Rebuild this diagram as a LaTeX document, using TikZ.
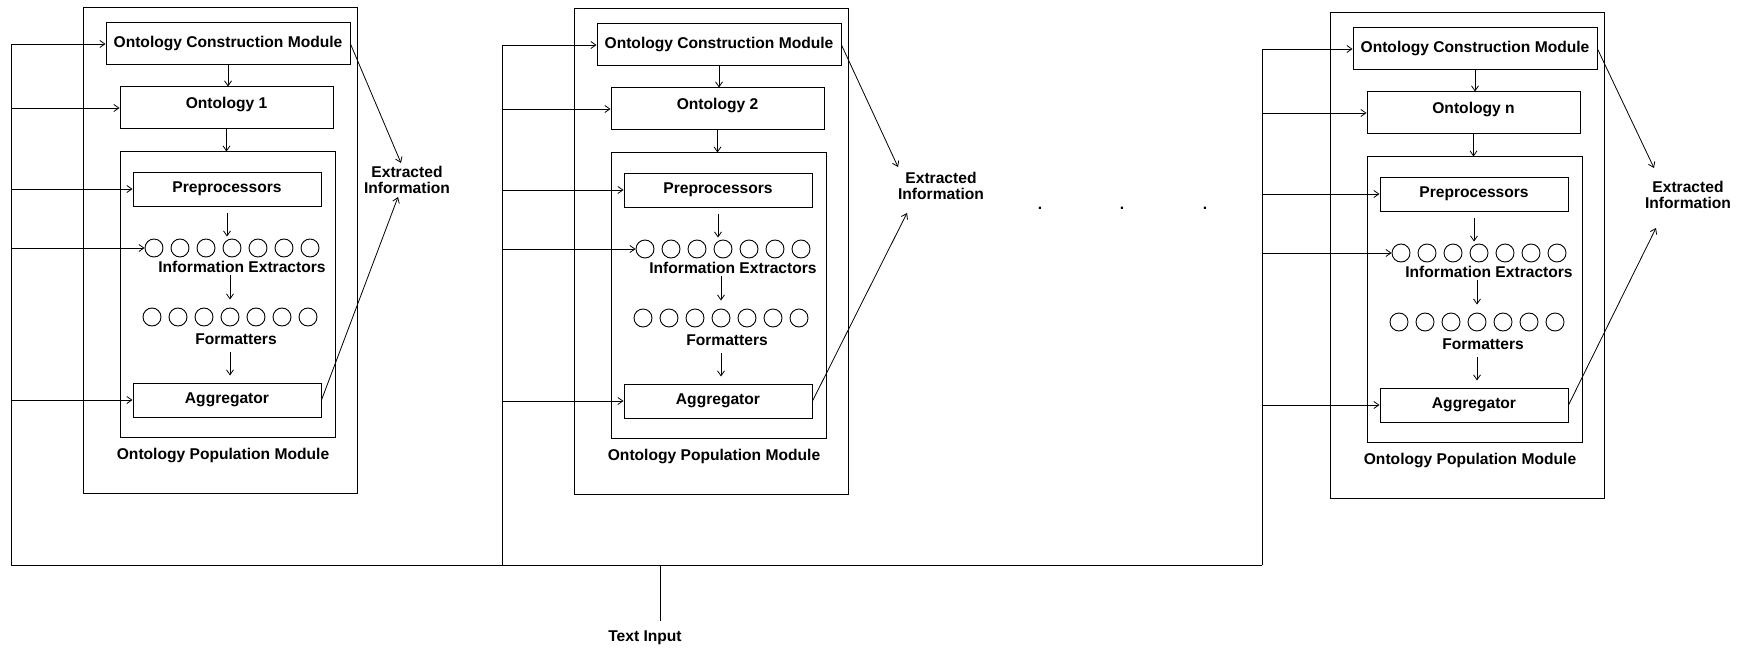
\documentclass[tikz,border=0pt]{standalone}
\usepackage{fontspec}
\setmainfont{Liberation Sans}
\usetikzlibrary{arrows.meta,calc}

\tikzset{
  box/.style={draw, line width=1pt, inner sep=0pt},
  lab/.style={inner sep=0pt, font=\fontsize{15.6}{16.5}\selectfont\bfseries},
  ring/.style={draw, circle, line width=0.9pt, minimum size=18pt, inner sep=0pt},
  arr/.style={-{Straight Barb[length=5pt,width=7pt]}, line width=0.8pt},
  wire/.style={line width=0.9pt},
}

% One extraction pipeline: #1 name suffix, #2/#3 offset, #4 ontology title
\newcommand\ontmodule[4]{%
  \begin{scope}[shift={(#2,#3)}]
    \node[box, minimum width=274pt, minimum height=485pt] (outer#1) at (220,250.5) {};
    \node[box, lab, minimum width=244pt, minimum height=42pt] (ocm#1) at (228,44) {Ontology Construction Module};
    \node[box, minimum width=213pt, minimum height=42pt] (ont#1) at (226.5,108) {};
    \node[lab] (ontlab#1) at ($(ont#1.center)+(0,-3.5)$) {#4};
    \node[box, minimum width=215pt, minimum height=285pt] (pop#1) at (227.5,294.5) {};
    \node[box, lab, minimum width=188pt, minimum height=34pt] (pre#1) at (227,189) {Preprocessors};
    \foreach \k in {1,...,7}
      \node[ring] (ie#1-\k) at ({154+26*(\k-1)},248) {};
    \node[lab] (ielab#1) at (242,267) {Information Extractors};
    \foreach \k in {1,...,7}
      \node[ring] (fm#1-\k) at ({152+26*(\k-1)},317) {};
    \node[lab] (fmlab#1) at (236,339) {Formatters};
    \node[box, lab, minimum width=188pt, minimum height=34pt] (agg#1) at (227,400) {Aggregator};
    \node[lab] (poplab#1) at (223,455) {Ontology Population Module};
    \draw[arr] (ocm#1.south) -- (ocm#1.south |- ont#1.north);
    \draw[arr] (ont#1.south) -- (ont#1.south |- pop#1.north);
    \draw[arr] ($(pre#1.south)+(0,6)$) -- ($(pre#1.south |- ie#1-4.north)+(0,-2)$);
    \draw[arr] ($(ielab#1.south -| fm#1-4)+(0,2.5)$) -- ($(fm#1-4.north)+(0,-8)$);
    \draw[arr] ($(fmlab#1.south -| fm#1-4)+(0,7.5)$) -- ($(agg#1.north -| fm#1-4)+(0,-7)$);
  \end{scope}}

\begin{document}
\begin{tikzpicture}[x=1pt, y=-1pt]
  \useasboundingbox (0,0) rectangle (1751,650);

  \ontmodule{1}{0}{0}{Ontology 1}
  \ontmodule{2}{491}{1}{Ontology 2}
  \ontmodule{3}{1247}{5}{Ontology n}

  % outputs
  \node[lab, align=center] (info1) at (407,180) {Extracted\\Information};
  \node[lab, align=center] (info2) at (941,186) {Extracted\\Information};
  \node[lab, align=center] (info3) at (1688,195) {Extracted\\Information};
  \coordinate (in1a) at (401,163);
  \coordinate (in1b) at (398,197);
  \coordinate (in2a) at (898,167);
  \coordinate (in2b) at (907,213);
  \coordinate (in3a) at (1654,168);
  \coordinate (in3b) at (1656,228);
  \foreach \m in {1,2,3} {
    \draw[arr] (ocm\m.east) -- (in\m a);
    \draw[arr] (agg\m.east) -- (in\m b);
  }

  % ellipsis between pipelines
  \node[lab] (dot1) at (1040,208) {.};
  \node[lab] (dot2) at (1122,208) {.};
  \node[lab] (dot3) at (1205,208) {.};

  % text input distribution bus
  \coordinate (bus1) at (11,565);
  \coordinate (bus2) at (502,565);
  \coordinate (bus3) at (1262,565);
  \foreach \m in {1,2,3} {
    \draw[wire, arr] (bus\m) |- (ocm\m.west);
    \foreach \t in {ont\m, pre\m, ie\m-1, agg\m}
      \draw[arr] (bus\m |- \t.west) -- (\t.west);
  }
  \draw[wire] (bus1) -- (bus3);

  \node[lab] (tin) at (645,638) {Text Input};
  \coordinate (tjoin) at (660,565);
  \draw[wire] (tjoin) -- ($(tjoin |- tin.north)+(0,-10)$);
\end{tikzpicture}
\end{document}
